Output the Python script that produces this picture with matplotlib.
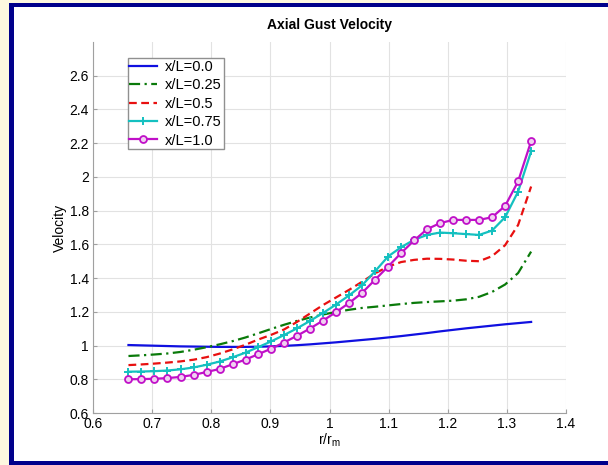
import matplotlib
matplotlib.use('Agg')
import matplotlib.pyplot as plt
from matplotlib.patches import Rectangle

plt.rcParams['font.family'] = ['Liberation Sans', 'DejaVu Sans']

# radial stations r/r_m
r = [0.660, 0.682, 0.704, 0.726, 0.748, 0.770, 0.792, 0.814, 0.836, 0.858,
     0.879, 0.901, 0.923, 0.945, 0.967, 0.989, 1.011, 1.033, 1.055, 1.077,
     1.099, 1.121, 1.143, 1.165, 1.187, 1.209, 1.231, 1.253, 1.275, 1.297,
     1.319, 1.341]

v00 = [1.003, 1.001, 0.999, 0.997, 0.995, 0.994, 0.993, 0.992, 0.992, 0.992,
       0.993, 0.995, 0.998, 1.002, 1.007, 1.013, 1.019, 1.026, 1.033, 1.040,
       1.048, 1.056, 1.065, 1.074, 1.084, 1.093, 1.102, 1.110, 1.118, 1.126,
       1.133, 1.140]
v025 = [0.938, 0.942, 0.947, 0.953, 0.962, 0.975, 0.990, 1.007, 1.026, 1.048,
        1.072, 1.098, 1.123, 1.146, 1.166, 1.184, 1.199, 1.212, 1.223, 1.230,
        1.238, 1.246, 1.253, 1.258, 1.262, 1.266, 1.274, 1.289, 1.318, 1.362,
        1.430, 1.557]
v05 = [0.884, 0.888, 0.893, 0.899, 0.906, 0.916, 0.931, 0.952, 0.977, 1.005,
       1.035, 1.063, 1.095, 1.140, 1.190, 1.240, 1.285, 1.330, 1.378, 1.428,
       1.468, 1.495, 1.508, 1.515, 1.514, 1.510, 1.503, 1.500, 1.530, 1.595,
       1.715, 1.943]
v075 = [0.845, 0.846, 0.848, 0.852, 0.859, 0.870, 0.886, 0.905, 0.930, 0.958,
        0.990, 1.024, 1.062, 1.102, 1.146, 1.193, 1.243, 1.297, 1.357, 1.440,
        1.528, 1.583, 1.627, 1.656, 1.670, 1.666, 1.661, 1.656, 1.682, 1.761,
        1.913, 2.151]
v10 = [0.800, 0.801, 0.803, 0.807, 0.814, 0.826, 0.843, 0.861, 0.889, 0.917,
       0.948, 0.981, 1.018, 1.058, 1.101, 1.148, 1.198, 1.252, 1.312, 1.390,
       1.468, 1.548, 1.623, 1.690, 1.726, 1.745, 1.745, 1.745, 1.761, 1.828,
       1.973, 2.212]

labels = ['x/L=0.0', 'x/L=0.25', 'x/L=0.5', 'x/L=0.75', 'x/L=1.0']
xticks = [0.6, 0.7, 0.8, 0.9, 1, 1.1, 1.2, 1.3, 1.4]
yticks = [0.6, 0.8, 1, 1.2, 1.4, 1.6, 1.8, 2, 2.2, 2.4, 2.6]

fig = plt.figure(figsize=(6.08, 4.65), dpi=100, facecolor='#fdf8e0')
# navy frame and white panel
fig.patches.append(Rectangle((9/608, 0), 599/608, 462/465, transform=fig.transFigure,
                             facecolor='#00008b', edgecolor='none', zorder=-2))
fig.patches.append(Rectangle((14/608, 4/465), 594/608, 454/465, transform=fig.transFigure,
                             facecolor='white', edgecolor='none', zorder=-1))

ax = fig.add_axes([93/608, 52/465, 473/608, 371/465])
ax.set_facecolor('white')

ax.plot(r, v00, color='#1010e0', lw=1.6, label=labels[0])
ax.plot(r, v025, color='#0a7a0a', lw=1.6, linestyle=(0, (5, 2, 1, 2)), label=labels[1])
ax.plot(r, v05, color='#e81010', lw=1.6, linestyle=(0, (3.5, 2)), label=labels[2])
ax.plot(r, v075, color='#14c0c0', lw=1.6, marker='+', ms=6, mew=1.4, label=labels[3])
ax.plot(r, v10, color='#c010c8', lw=1.6, marker='o', ms=5, mew=1.3,
        mfc='#f0d0f0', label=labels[4])

ax.set_xlim(0.6, 1.4)
ax.set_ylim(0.6, 2.8)
ax.set_xticks(xticks)
ax.set_xticklabels([f'{t:g}' for t in xticks])
ax.set_yticks(yticks)
ax.set_yticklabels([f'{t:g}' for t in yticks])
ax.grid(True, color='#e2e2e2', lw=0.8)
ax.set_axisbelow(True)
for s in ['top', 'right']:
    ax.spines[s].set_visible(False)
for s in ['left', 'bottom']:
    ax.spines[s].set_color('#a0a0a0')
ax.tick_params(direction='in', length=3, color='#a0a0a0', labelsize=10, pad=3)

ax.set_title('Axial Gust Velocity', fontsize=10, fontweight='bold', pad=9)
ax.set_xlabel('r/r$_\\mathregular{m}$', fontsize=10, labelpad=0)
ax.set_ylabel('Velocity', fontsize=10, labelpad=2)

leg = ax.legend(loc='upper left', bbox_to_anchor=(0.073, 0.956), borderaxespad=0,
                fontsize=10.5, fancybox=False, framealpha=1, edgecolor='#909090',
                handlelength=1.9, labelspacing=0.3, borderpad=0.12,
                handletextpad=0.55)
leg.get_frame().set_linewidth(1.0)

fig.savefig('out.png', dpi=100, facecolor=fig.get_facecolor())
